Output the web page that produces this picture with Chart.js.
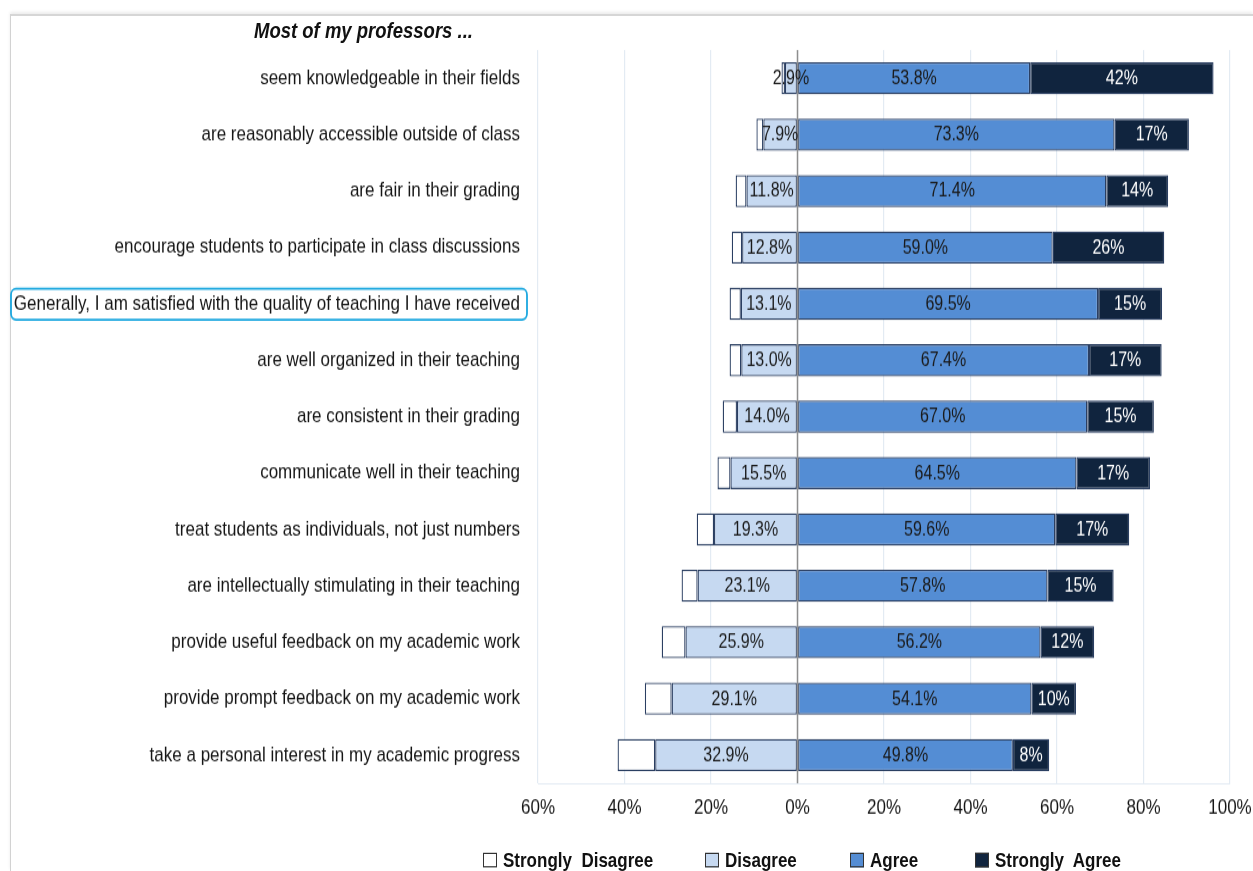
<!DOCTYPE html>
<html>
<head>
<meta charset="utf-8">
<script src="https://cdn.jsdelivr.net/npm/chart.js@4.4.1/dist/chart.umd.min.js"></script>
<style>
    html, body { margin: 0; padding: 0; background: #fff; }
    #wrap { position: relative; width: 1253px; height: 871px; overflow: hidden; }
    #frame { position: absolute; left: 10px; top: 14px; right: 0; bottom: 0; border-top: 2px solid #d6d6d6; border-left: 1px solid #d2d2d2; box-shadow: 0 -2px 3px rgba(0,0,0,0.08); }
    /* the source picture is stretched vertically, so the whole stage is too */
    #stage { position: absolute; left: 0; top: 0; width: 1253px; height: 714px; transform: scaleY(1.22); transform-origin: 0 0; }
    #title { position: absolute; left: 254px; top: 14px; font: italic bold 18.5px 'Liberation Sans', Arial, sans-serif; color: #111; }
    #chart { position: absolute; left: 0; top: 0; }
    #legend { position: absolute; left: 0; top: 696px; width: 1253px; height: 20px; font: bold 17px 'Liberation Sans', Arial, sans-serif; color: #111; white-space: pre; line-height: 20px; }
    #legend div { position: absolute; top: 0; }
    #legend span.box { display: inline-block; width: 12px; height: 10px; border: 1px solid #333; margin-right: 6px; vertical-align: 0px; }
</style>
</head>
<body>
<div id="wrap">
    <div id="frame"></div>
    <div id="stage">
        <div id="title">Most of my professors ...</div>
        <canvas id="chart" width="1253" height="714"></canvas>
        <div id="legend"></div>
    </div>
</div>
<script>
"use strict";

var categories = [
    "seem knowledgeable in their fields",
    "are reasonably accessible outside of class",
    "are fair in their grading",
    "encourage students to participate in class discussions",
    "Generally, I am satisfied with the quality of teaching I have received",
    "are well organized in their teaching",
    "are consistent in their grading",
    "communicate well in their teaching",
    "treat students as individuals, not just numbers",
    "are intellectually stimulating in their teaching",
    "provide useful feedback on my academic work",
    "provide prompt feedback on my academic work",
    "take a personal interest in my academic progress"
];
var stronglyDisagree = [0.8, 1.6, 2.5, 2.4, 2.6, 2.7, 3.3, 3.0, 4.0, 3.7, 5.5, 6.2, 8.7];
var disagree = [2.9, 7.9, 11.8, 12.8, 13.1, 13.0, 14.0, 15.5, 19.3, 23.1, 25.9, 29.1, 32.9];
var agree = [53.8, 73.3, 71.4, 59.0, 69.5, 67.4, 67.0, 64.5, 59.6, 57.8, 56.2, 54.1, 49.8];
var stronglyAgree = [42.4, 17.2, 14.3, 25.8, 14.8, 16.8, 15.4, 17.0, 17.1, 15.3, 12.4, 10.3, 8.4];
var xTicks = [-60, -40, -20, 0, 20, 40, 60, 80, 100];
var legendNames = ["Strongly  Disagree", "Disagree", "Agree", "Strongly  Agree"];
var highlightIndex = 4;

var FONT = "'Liberation Sans', Arial, sans-serif";
var colors = { sd: '#ffffff', d: '#c6d9f1', a: '#548dd4', sa: '#10243e' };
var edge = '#2b3f62';

// build the html legend
var legendColors = [colors.sd, colors.d, colors.a, colors.sa];
var legendLeft = [483, 705, 850, 975];
var legendEl = document.getElementById('legend');
legendNames.forEach(function (name, i) {
    var item = document.createElement('div');
    var box = document.createElement('span');
    item.style.left = legendLeft[i] + 'px';
    box.className = 'box';
    box.style.background = legendColors[i];
    item.appendChild(box);
    item.appendChild(document.createTextNode(name));
    legendEl.appendChild(item);
});

// zero line, bar labels and the highlighted category box
var overlayPlugin = {
    id: 'overlay',
    afterDatasetsDraw: function (chart) {
        var ctx = chart.ctx;
        var area = chart.chartArea;
        var x0 = chart.scales.x.getPixelForValue(0);
        ctx.save();
        ctx.strokeStyle = '#8e8e8e';
        ctx.lineWidth = 1.5;
        ctx.beginPath();
        ctx.moveTo(x0, area.top);
        ctx.lineTo(x0, area.bottom);
        ctx.stroke();

        ctx.font = '16px ' + FONT;
        ctx.textAlign = 'center';
        ctx.textBaseline = 'middle';
        chart.data.datasets.forEach(function (ds, di) {
            if (!ds.showLabel) return;
            var meta = chart.getDatasetMeta(di);
            meta.data.forEach(function (bar, i) {
                var v = Math.abs(ds.data[i]);
                ctx.fillStyle = ds.labelColor;
                ctx.fillText(v.toFixed(ds.decimals) + '%', (bar.x + bar.base) / 2, bar.y + 0.5);
            });
        });
        ctx.restore();
    },
    afterDraw: function (chart) {
        var ctx = chart.ctx;
        var y = chart.scales.y.getPixelForTick(highlightIndex);
        ctx.save();
        ctx.strokeStyle = '#1ba7df';
        ctx.lineWidth = 1.8;
        ctx.beginPath();
        ctx.roundRect(11, y - 12.4, 516, 25.4, 5);
        ctx.stroke();
        ctx.restore();
    }
};

function makeSet(label, data, color, extra) {
    var ds = {
        label: label,
        data: data,
        backgroundColor: color,
        borderColor: edge,
        borderWidth: 1.3,
        borderSkipped: false,
        categoryPercentage: 1,
        barPercentage: 0.57
    };
    return Object.assign(ds, extra || {});
}

var config = {
    type: 'bar',
    data: {
        labels: categories,
        datasets: [
            // disagree first so it sits next to zero on the negative side
            makeSet('Disagree', disagree.map(function (v) { return -v; }), colors.d, { showLabel: true, decimals: 1, labelColor: '#1a1a1a' }),
            makeSet('Strongly Disagree', stronglyDisagree.map(function (v) { return -v; }), colors.sd),
            makeSet('Agree', agree, colors.a, { showLabel: true, decimals: 1, labelColor: '#1a1a1a' }),
            makeSet('Strongly Agree', stronglyAgree, colors.sa, { showLabel: true, decimals: 0, labelColor: '#ffffff' })
        ]
    },
    options: {
        indexAxis: 'y',
        responsive: false,
        animation: false,
        layout: {
            padding: { top: 41, right: 23, bottom: 39, left: 0 }
        },
        scales: {
            x: {
                stacked: true,
                min: -60,
                max: 100,
                afterBuildTicks: function (scale) {
                    scale.ticks = xTicks.map(function (v) { return { value: v }; });
                },
                afterFit: function (scale) {
                    scale.height = 33;
                    scale.paddingRight = 0;
                    scale.paddingLeft = 0;
                },
                grid: {
                    color: '#e3ebf3',
                    lineWidth: 1.2,
                    drawTicks: false
                },
                border: { display: true, color: '#e3ebf3' },
                ticks: {
                    padding: 10,
                    color: '#151515',
                    font: { family: FONT, size: 17 },
                    callback: function (v) { return Math.abs(v) + '%'; }
                }
            },
            y: {
                stacked: true,
                afterFit: function (scale) {
                    scale.width = 538;
                },
                grid: { display: false, drawTicks: false },
                border: { display: false },
                ticks: {
                    padding: 18,
                    color: '#151515',
                    font: { family: FONT, size: 17 }
                }
            }
        },
        plugins: {
            legend: { display: false },
            tooltip: { enabled: false }
        }
    },
    plugins: [overlayPlugin]
};

new Chart(document.getElementById('chart').getContext('2d'), config);
</script>
</body>
</html>
